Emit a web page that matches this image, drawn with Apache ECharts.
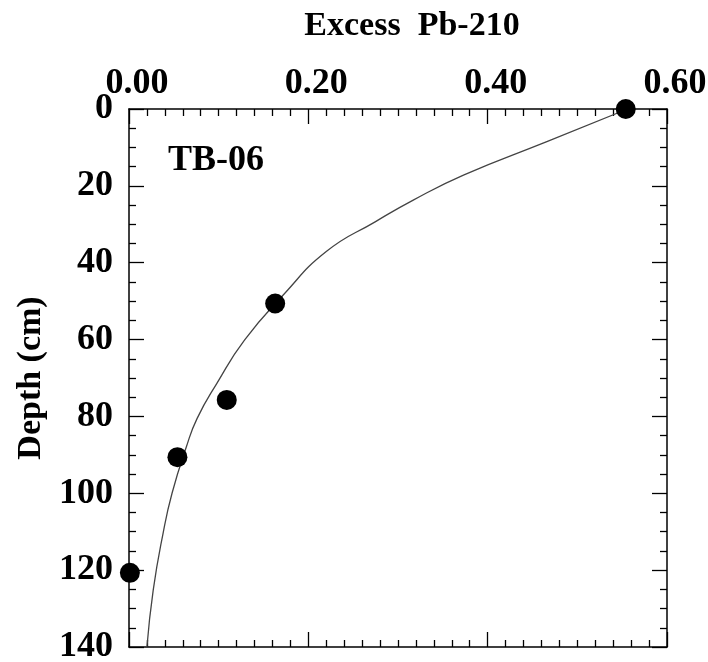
<!DOCTYPE html>
<html>
<head>
<meta charset="utf-8">
<script src="https://cdn.jsdelivr.net/npm/echarts@6/dist/echarts.min.js"></script>
<style>html,body{margin:0;padding:0;background:#fff}#c{width:708px;height:662px}</style>
</head>
<body>
<div id="c"></div>
<script>
// Measured samples (Excess Pb-210, depth cm)
var sampleExcess = [0.554, 0.163, 0.109, 0.054, 0.001];
var sampleDepth  = [0, 50.6, 75.7, 90.6, 120.7];
// Fitted curve
var curveExcess = [0.556, 0.466, 0.373, 0.317, 0.275, 0.220, 0.172, 0.129, 0.098, 0.076, 0.064, 0.048, 0.038, 0.027, 0.020];
var curveDepth  = [0, 8.5, 17.2, 23.7, 29.3, 37.1, 48.4, 60.1, 71.4, 80.5, 87.9, 100, 110.4, 125.2, 140];
var xTicks = [0, 0.2, 0.4, 0.6];
var yTicks = [0, 20, 40, 60, 80, 100, 120, 140];
var xTitle = 'Excess  Pb-210';
var yTitle = 'Depth (cm)';
var panelLabel = 'TB-06';

var FONT = '"Liberation Serif", "Times New Roman", serif';
var chart = echarts.init(document.getElementById('c'), null, {renderer: 'canvas'});

function pairs(a, b) { return a.map(function (v, i) { return [v, b[i]]; }); }

var lineStyleAxis = {color: '#000', width: 1.5};
var tickStyle = {color: '#000', width: 1.3};

var baseX = {
  type: 'value', min: xTicks[0], max: xTicks[xTicks.length - 1], interval: 0.2,
  axisLine: {show: true, onZero: false, lineStyle: lineStyleAxis},
  axisTick: {show: true, inside: true, length: 15, lineStyle: tickStyle},
  minorTick: {show: true, splitNumber: 10, length: 7, lineStyle: tickStyle},
  splitLine: {show: false}, minorSplitLine: {show: false}
};
var baseY = {
  type: 'value', inverse: true, min: yTicks[0], max: yTicks[yTicks.length - 1], interval: 20,
  axisLine: {show: true, onZero: false, lineStyle: lineStyleAxis},
  axisTick: {show: true, inside: true, length: 15, lineStyle: tickStyle},
  minorTick: {show: true, splitNumber: 4, length: 7, lineStyle: tickStyle},
  splitLine: {show: false}, minorSplitLine: {show: false}
};

var option = {
  backgroundColor: '#fff',
  animation: false,
  grid: {left: 129, top: 109, right: 41, bottom: 15, containLabel: false, outerBoundsMode: 'none'},
  xAxis: [
    Object.assign({}, baseX, {
      position: 'top',
      name: xTitle, nameLocation: 'middle', nameGap: 66,
      nameTextStyle: {fontFamily: FONT, fontWeight: 'bold', fontSize: 34, color: '#000', padding: [0, 0, 0, 28]},
      axisLabel: {show: true, margin: 7, fontFamily: FONT, fontWeight: 'bold', fontSize: 36, color: '#000',
        padding: [0, 0, 0, 16],
        formatter: function (v) { return v.toFixed(2); }}
    }),
    Object.assign({}, baseX, {position: 'bottom', axisLabel: {show: false}})
  ],
  yAxis: [
    Object.assign({}, baseY, {
      position: 'left',
      name: yTitle, nameLocation: 'middle', nameGap: 80, nameRotate: 90,
      nameTextStyle: {fontFamily: FONT, fontWeight: 'bold', fontSize: 34, color: '#000'},
      axisLabel: {show: true, margin: 16, fontFamily: FONT, fontWeight: 'bold', fontSize: 36, color: '#000'}
    }),
    Object.assign({}, baseY, {position: 'right', axisLabel: {show: false}})
  ],
  graphic: [{
    type: 'text', left: 168, top: 143, z: 10,
    style: {text: panelLabel, font: 'bold 36px ' + FONT, fill: '#000'}
  }],
  series: [
    {
      type: 'line', xAxisIndex: 0, yAxisIndex: 0, smooth: 0.5, showSymbol: false,
      data: pairs(curveExcess, curveDepth),
      lineStyle: {color: '#444', width: 1.3}, z: 2
    },
    {
      type: 'scatter', xAxisIndex: 0, yAxisIndex: 0, symbol: 'circle', symbolSize: 20,
      data: pairs(sampleExcess, sampleDepth),
      itemStyle: {color: '#000', opacity: 1}, z: 3
    }
  ]
};
chart.setOption(option);
</script>
</body>
</html>
